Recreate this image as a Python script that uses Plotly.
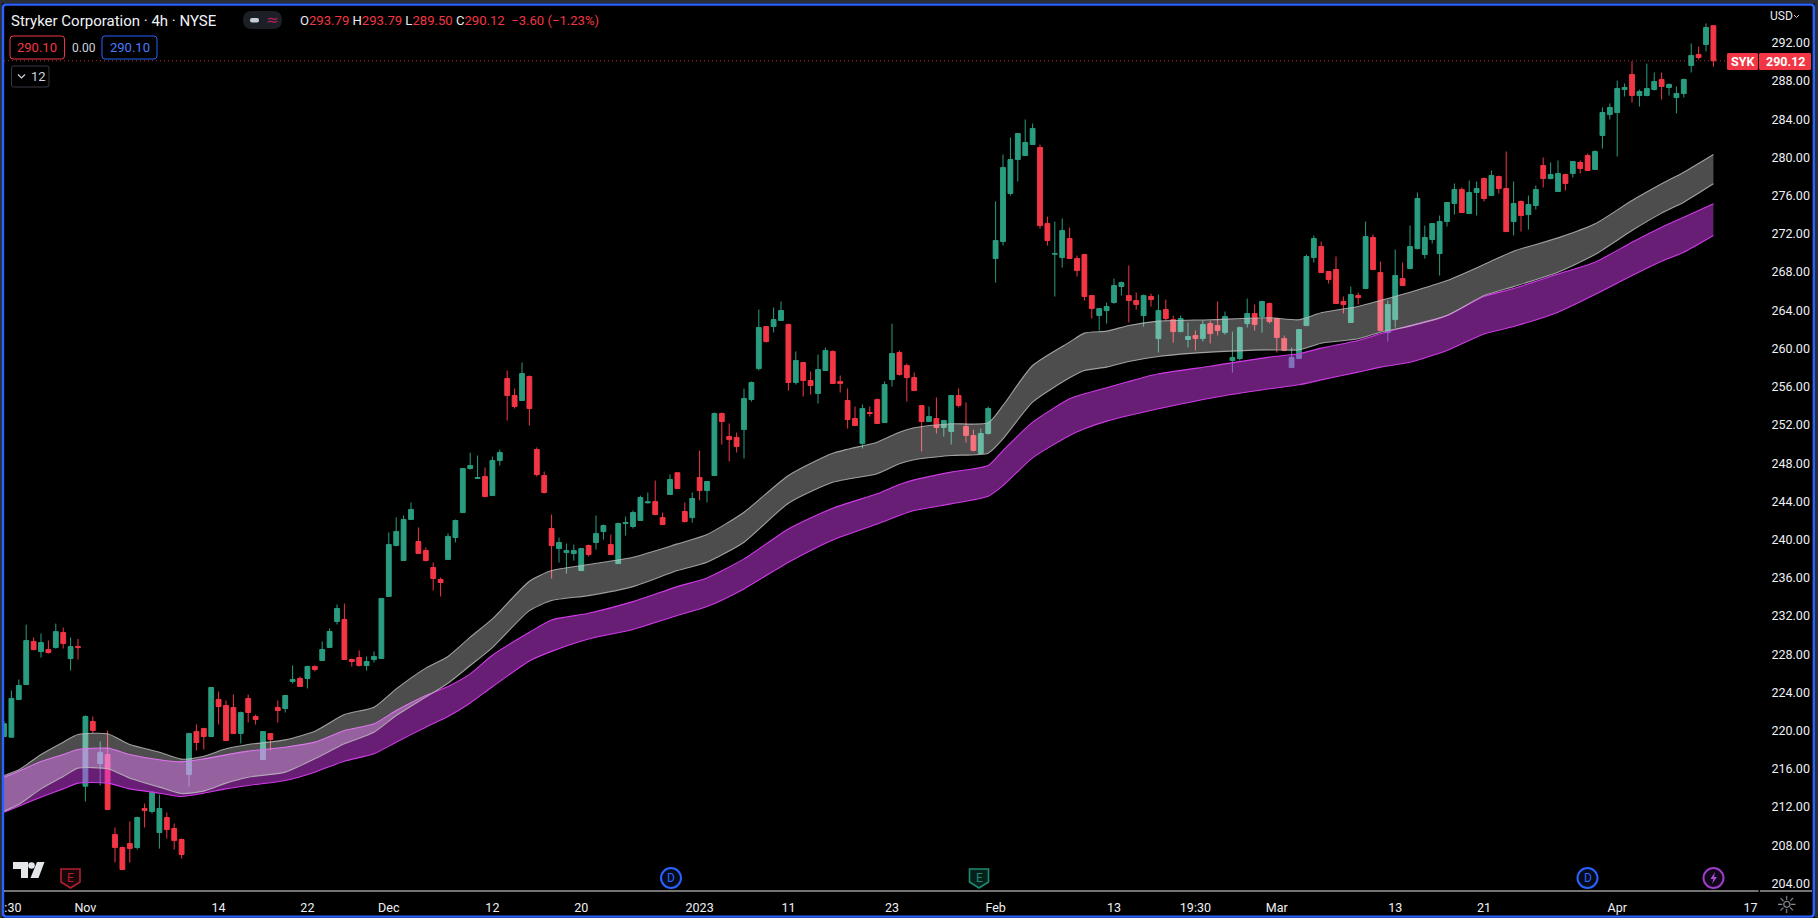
import plotly.graph_objects as go

# ---- candle data (prices) ----
opens = [219.39,219.32,223.27,224.83,229.33,228.28,228.49,228.7,230.27,227.55,
228.8,214.19,220.96,216.56,217.51,209.13,207.77,208.19,207.77,211.85,
211.54,209.34,210.91,209.76,208.61,215.41,219.91,220.23,219.39,223.27,
222.64,222.43,219.71,223.37,221.48,216.98,219.7,222.43,222.32,225.15,
225.46,225.46,226.72,227.35,228.71,231.43,231.64,227.45,227.66,226.82,
227.45,227.55,234.05,239.38,237.81,242.11,239.8,238.86,237.08,235.83,
237.92,240.22,242.83,247.44,246.4,246.6,244.61,248.28,256.86,255.08,
254.56,257.07,249.43,246.7,241.16,239.06,238.64,238.54,236.76,239.38,
239.69,240.84,239.48,237.49,241.68,241.37,242.0,243.85,243.98,242.3,
244.72,247.0,242.94,242.3,246.5,245.14,246.71,253.2,250.79,250.68,
251.52,254.66,257.9,262.3,262.3,262.93,262.51,256.44,258.53,256.65,
255.29,257.7,259.69,256.55,254.56,252.67,250.05,253.3,254.66,252.25,
256.75,259.58,258.22,256.96,254.03,252.36,252.67,251.73,251.31,255.08,
251.84,250.9,249.01,251.1,269.42,271.2,276.22,279.78,280.2,281.35,
281.04,273.08,269.87,269.52,271.51,269.42,269.84,265.54,263.45,263.97,
264.81,266.49,265.54,265.02,263.45,265.44,261.04,264.08,263.03,261.77,
260.94,261.36,261.04,262.61,262.4,261.67,258.74,258.95,262.61,263.66,
263.35,264.71,263.14,261.04,258.01,258.95,262.4,269.52,270.67,268.06,
268.27,264.92,262.72,265.54,266.28,271.62,267.95,261.67,263.03,267.32,
268.37,270.46,269.84,271.41,269.94,273.29,275.18,276.64,274.13,276.33,
277.79,276.01,278.0,276.75,273.29,275.39,274.02,274.97,279.15,277.79,
276.43,278.21,278.32,279.47,280.2,278.74,282.3,284.49,284.7,287.11,
288.68,286.48,286.48,287.11,288.16,287.32,286.27,286.69,289.63,290.78,
291.82,293.79]
highs = [221.0,224.21,225.36,231.1,229.75,230.17,229.43,231.21,230.8,229.75,
229.6,221.6,221.48,218.87,220.02,209.86,207.87,210.49,211.0,212.38,
213.7,213.32,211.43,210.28,208.71,219.75,220.65,220.3,224.55,224.1,
223.16,223.79,222.0,223.79,221.69,219.95,219.75,223.16,223.75,226.83,
225.67,226.8,226.83,229.34,230.7,233.21,233.3,227.55,228.4,227.77,
228.29,233.9,240.75,242.32,242.53,243.89,241.27,239.18,237.6,236.03,
240.64,242.1,247.5,249.11,248.8,247.54,248.69,249.43,257.7,255.81,
258.54,257.18,249.64,247.12,242.62,240.21,239.59,239.48,239.1,239.48,
242.52,241.57,240.53,241.78,242.41,243.04,244.6,244.93,246.18,242.83,
246.81,247.0,243.88,244.93,249.32,246.1,253.3,253.3,252.15,251.2,
255.81,256.55,264.08,262.35,264.29,264.92,262.6,259.69,258.6,257.59,
259.37,260.1,259.8,257.17,255.81,253.93,254.14,253.93,254.77,256.55,
262.6,259.79,258.43,257.49,254.1,253.93,254.87,252.5,255.1,255.82,
254.35,251.52,251.63,253.93,275.4,280.3,282.09,282.55,283.97,283.55,
281.35,273.81,273.29,273.61,272.66,269.73,269.9,265.6,264.25,264.81,
267.32,267.01,268.68,265.86,265.65,265.75,265.65,265.12,263.45,263.45,
262.72,261.88,262.93,262.93,264.92,263.87,261.77,262.3,265.23,264.6,
265.0,264.81,263.2,261.36,260.1,262.0,269.84,271.83,271.2,268.1,
269.63,265.44,266.49,265.86,273.29,271.93,269.1,265.02,270.36,269.0,
272.87,276.33,272.87,273.1,273.92,275.3,277.27,276.85,277.58,277.48,
277.9,278.63,278.1,280.62,277.48,275.5,276.01,277.06,279.99,279.47,
279.68,278.3,279.6,279.68,280.41,280.73,285.23,285.65,288.05,287.74,
290.04,287.11,289.83,288.89,288.89,287.74,287.43,288.26,291.93,291.61,
294.02,293.79]
lows = [219.3,219.3,223.2,224.8,228.4,227.65,228.07,228.6,228.6,226.3,
227.44,212.59,219.7,214.26,211.7,206.2,205.45,206.2,207.56,209.86,
211.33,207.66,208.71,207.56,206.62,214.16,217.93,218.03,219.35,220.65,
218.9,219.65,218.66,220.86,220.65,216.95,217.93,220.86,221.9,224.94,
224.6,224.42,226.2,227.3,228.65,231.12,227.4,226.72,226.72,226.3,
227.14,227.5,234.0,239.3,237.8,242.1,238.5,237.7,234.67,234.05,
237.9,239.7,242.8,247.33,246.4,244.45,244.6,247.75,252.46,253.72,
254.5,251.94,246.6,244.82,235.92,237.6,236.44,237.8,236.7,238.23,
238.96,240.0,238.4,237.45,240.42,241.16,241.95,243.77,242.6,241.55,
244.7,245.3,241.78,241.78,244.1,243.88,246.7,249.95,248.17,249.11,
248.5,254.45,257.7,260.63,261.68,262.9,255.6,256.23,254.97,255.18,
254.24,257.65,256.3,255.39,251.62,251.9,249.53,252.88,252.1,252.2,
256.02,257.17,254.45,255.58,249.22,252.3,251.1,250.79,249.95,253.83,
250.16,249.22,249.0,251.0,266.9,270.78,276.0,277.48,280.15,281.3,
272.56,270.78,265.44,268.47,269.4,267.53,265.02,263.14,261.88,262.61,
264.7,265.54,262.72,264.08,262.3,264.39,259.58,262.9,260.62,261.7,
260.1,259.78,260.73,260.52,261.36,261.46,257.48,258.74,262.19,261.88,
261.67,262.61,259.58,259.75,258.0,258.9,262.35,269.0,267.9,266.8,
264.7,263.66,262.7,264.6,266.2,268.2,261.8,260.73,262.19,266.55,
268.3,270.36,269.42,270.99,267.64,272.77,274.02,274.2,274.1,273.92,
275.39,276.0,276.22,272.2,271.83,272.24,272.45,274.55,276.85,277.7,
276.4,276.54,277.9,278.32,278.6,278.7,280.93,283.97,280.1,286.38,
285.75,285.33,286.4,287.0,286.06,286.48,284.6,286.27,288.89,290.25,
291.09,289.5]
closes = [220.72,223.37,224.73,229.43,228.49,229.22,228.17,230.37,229.12,228.8,
228.7,221.48,220.02,217.72,211.75,207.77,205.47,207.67,210.91,211.64,
213.53,211.85,209.65,208.5,207.04,219.71,218.76,219.39,224.52,222.53,
218.97,219.71,221.9,221.9,221.17,219.91,219.08,222.11,223.68,225.36,
224.63,226.72,226.41,228.5,230.38,232.79,227.45,227.24,226.82,227.24,
227.77,233.84,239.49,240.85,242.11,243.15,238.55,237.81,235.93,235.51,
240.33,242.0,247.44,247.75,246.5,244.5,248.28,249.11,255.08,253.93,
257.38,253.72,246.81,244.93,239.38,239.69,238.85,238.85,239.06,238.44,
240.63,241.47,238.44,241.68,241.78,242.83,244.4,243.95,242.62,241.57,
246.29,245.34,241.89,244.3,245.14,246.08,253.2,252.36,250.47,249.74,
254.77,256.44,262.2,260.73,263.03,263.98,256.44,258.74,256.65,256.13,
257.8,259.79,256.34,256.34,252.57,251.94,253.72,253.2,252.15,256.23,
259.48,257.28,256.96,255.6,252.36,252.88,251.73,252.47,255.08,254.04,
250.9,249.33,251.1,253.72,271.3,278.94,279.78,282.5,281.56,283.03,
272.87,271.3,269.94,272.35,269.42,268.16,265.44,264.18,264.18,264.39,
266.59,266.9,265.02,264.6,265.54,265.12,263.97,263.14,261.77,263.14,
261.25,261.04,262.51,261.56,261.88,263.35,259.05,262.19,263.66,262.51,
264.92,262.82,261.15,259.79,259.05,261.98,269.63,271.51,267.95,267.22,
264.71,264.6,265.65,265.33,271.72,268.27,261.88,264.6,267.64,266.59,
270.67,275.7,271.62,273.08,273.29,275.28,276.64,274.23,276.33,276.75,
275.7,278.1,276.75,272.24,275.18,273.92,275.07,276.64,277.79,278.21,
278.32,277.27,279.57,278.84,278.63,280.62,284.7,285.23,287.22,287.32,
286.48,286.9,287.22,287.95,287.43,287.64,286.69,288.16,290.67,290.46,
293.6,290.12]

# ---- EMA-ribbon edges, read at a set of candle numbers ----
band_idx = [0,2,5,8,10,14,17,21,24,27,30,33,38,42,46,50,53,57,60,
63,66,71,74,79,85,91,95,100,106,112,118,121,
123,128,133,135,139,144,146,149,152,156,163,171,175,178,183,186,
190,195,200,204,210,215,220,224,227,231]
gray_upper = [215.31,215.90,217.51,218.80,219.60,219.67,218.55,217.75,217.02,217.33,218.10,218.55,219.04,219.95,221.69,222.46,224.38,226.55,227.77,
229.79,231.70,235.64,236.76,237.39,238.16,239.55,240.53,242.87,246.71,249.04,250.2,251.24,
251.70,252.12,252.22,254.04,258.22,260.67,261.61,261.82,262.41,262.87,263.01,263.22,263.01,263.74,264.40,265.03,
265.89,267.11,268.79,270.19,271.58,273.05,275.49,277.24,278.46,280.31]
gray_lower = [211.57,212.27,213.91,215.20,216.08,216.01,215.03,214.09,213.42,213.67,214.51,215.13,215.66,217.05,218.62,219.84,221.59,223.51,224.97,
226.82,228.7,232.57,233.62,234.14,235.08,236.76,237.63,239.73,243.81,246.0,246.9,247.93,
248.35,248.80,249.05,250.55,254.39,256.93,257.70,258.05,258.64,259.17,259.62,259.86,259.86,260.56,261.02,261.71,
262.33,263.45,265.54,266.48,267.99,269.84,272.35,274.17,275.32,277.24]
purple_upper = [215.13,215.76,216.77,217.51,218.03,218.17,217.51,216.95,216.74,217.05,217.47,217.86,218.27,218.80,220.02,220.72,222.11,223.68,224.63,
225.95,227.9,230.3,231.59,232.29,233.51,235.08,235.99,237.98,241.12,243.29,244.79,245.76,
246.25,247.06,247.75,249.32,252.29,254.73,255.26,255.89,256.55,257.35,258.15,259.10,259.45,260.04,260.84,261.54,
262.4,263.45,265.44,266.28,267.81,269.03,271.13,272.7,273.75,275.14]
purple_lower = [211.47,212.10,213.04,213.91,214.51,214.51,213.91,213.46,213.11,213.46,213.91,214.26,214.78,215.66,216.81,217.58,218.80,220.37,221.48,
222.9,224.6,227.3,228.3,229.6,230.6,232.05,232.99,234.84,237.63,239.97,241.64,242.52,
243.04,243.74,244.54,245.66,248.56,250.9,251.6,252.4,252.99,253.69,254.8,255.78,256.2,256.72,257.53,258.05,
258.56,259.79,261.53,262.3,263.8,265.65,267.64,269.14,270.08,271.83]

# ---- axis ticks ----
date_pos = [1.2,11,29,41,52,66,78,94,106,120,134,150,161,172,188,200,218,236]
date_lab = [":30","Nov","14","22","Dec","12","20","2023","11","23","Feb","13","19:30","Mar","13","21","Apr","17"]
price_ticks = [204+4*k for k in range(23)]

last_close = closes[-1]

# ---- pane geometry in page pixels ----
W, H = 1818, 918
L, R, T, B = 4, 1759, 6, 891
def px(x): return (x - L) / (R - L)
def py(y): return (B - y) / (B - T)
def P(x, y): return f"{px(x):.5f},{py(y):.5f}"

UP = "#2a9d80"
DOWN = "#f23645"
BLUE = "#2962ff"
FONT = "Roboto, Liberation Sans, sans-serif"

fig = go.Figure()
idx = list(range(len(opens)))
fig.add_trace(go.Candlestick(
    x=idx, open=opens, high=highs, low=lows, close=closes,
    increasing=dict(fillcolor=UP, line=dict(color=UP, width=1)),
    decreasing=dict(fillcolor=DOWN, line=dict(color=DOWN, width=1)),
    whiskerwidth=0, showlegend=False, hoverinfo="skip"))

def band(top, bottom, line, fill):
    fig.add_trace(go.Scatter(x=band_idx, y=top, mode="lines", showlegend=False, hoverinfo="skip",
                             line=dict(color=line, width=1.1, shape="spline", smoothing=0.6)))
    fig.add_trace(go.Scatter(x=band_idx, y=bottom, mode="lines", showlegend=False, hoverinfo="skip",
                             line=dict(color=line, width=1.1, shape="spline", smoothing=0.6),
                             fill="tonexty", fillcolor=fill))

band(purple_upper, purple_lower, "#cf3ae6", "rgba(224,64,251,0.47)")
band(gray_upper, gray_lower, "rgba(190,190,190,0.8)", "rgba(255,255,255,0.30)")

shapes, ann = [], []

def rect(x0, y0, x1, y1, fill=None, line=None, lw=1, r=0):
    if r:
        p = (f"M {P(x0+r,y0)} L {P(x1-r,y0)} Q {P(x1,y0)} {P(x1,y0+r)} L {P(x1,y1-r)} "
             f"Q {P(x1,y1)} {P(x1-r,y1)} L {P(x0+r,y1)} Q {P(x0,y1)} {P(x0,y1-r)} "
             f"L {P(x0,y0+r)} Q {P(x0,y0)} {P(x0+r,y0)} Z")
        shapes.append(dict(type="path", xref="paper", yref="paper", path=p, layer="above",
                           fillcolor=fill or "rgba(0,0,0,0)",
                           line=dict(color=line or "rgba(0,0,0,0)", width=lw if line else 0)))
    else:
        shapes.append(dict(type="rect", xref="paper", yref="paper", x0=px(x0), x1=px(x1), y0=py(y0), y1=py(y1),
                           layer="above", fillcolor=fill or "rgba(0,0,0,0)",
                           line=dict(color=line or "rgba(0,0,0,0)", width=lw if line else 0)))

def poly(points, fill=None, line=None, lw=1, close=True):
    p = "M " + " L ".join(P(a, b) for a, b in points) + (" Z" if close else "")
    shapes.append(dict(type="path", xref="paper", yref="paper", path=p, layer="above",
                       fillcolor=fill or "rgba(0,0,0,0)",
                       line=dict(color=line or "rgba(0,0,0,0)", width=lw if line else 0)))

def circle(cx, cy, r, fill=None, line=None, lw=2):
    shapes.append(dict(type="circle", xref="paper", yref="paper", x0=px(cx-r), x1=px(cx+r), y0=py(cy+r), y1=py(cy-r),
                       layer="above", fillcolor=fill or "rgba(0,0,0,0)",
                       line=dict(color=line or "rgba(0,0,0,0)", width=lw if line else 0)))

def text(x, y, s, color="#d1d4dc", size=13, anchor="left", family=FONT):
    ann.append(dict(xref="paper", yref="paper", x=px(x), y=py(y), text=s, showarrow=False,
                    xanchor=anchor, yanchor="middle", xshift=0, yshift=0,
                    font=dict(family=family, size=size, color=color), borderpad=0))

# outer frame
EDGE = "#2a2e39"
rect(0, 0, W, 3.5, fill=EDGE)
rect(0, 0, 2, H, fill=EDGE)
rect(1815, 0, W, H, fill=EDGE)
rect(3, 4.6, 1813.8, 916.6, line=BLUE, lw=2.4, r=3)

# bottom axis line
rect(4, 890.4, 1758.5, 891.4, fill="#e6e6e6")
rect(1760, 890.4, 1812, 891.4, fill="#e6e6e6")

# last price line
shapes.append(dict(type="line", xref="paper", yref="y", x0=0, x1=px(1727), y0=last_close, y1=last_close,
                   layer="above", line=dict(color="rgba(242,54,69,0.75)", width=1, dash="1px,3px")))
rect(1727, 53, 1758, 70, fill=DOWN, r=1.5)
rect(1759, 53, 1811, 70, fill=DOWN, r=1.5)
text(1742.5, 61.5, "<b>SYK</b>", "#ffffff", 12.5, "center")
text(1785, 61.5, "<b>290.12</b>", "#ffffff", 12.5, "center")

# USD
text(1769, 16, "USD", "#e6e8ee", 12)
poly([(1794, 15), (1796.5, 17.5), (1799, 15)], line="#c8ccd6", lw=1, close=False)

# header
text(10, 21, "Stryker Corporation · 4h · NYSE", "#f0f3fa", 15)
rect(243, 11, 282, 29, fill="#1c2026", r=9)
rect(250, 18, 259, 22.5, fill="#c8ccd4", r=2)
text(272, 20, "≈", "#b0205a", 15, "center", "DejaVu Sans")
r = "#f23645"
w = "#e8eaf0"
ohlc = (f'<span style="color:{w}">O</span><span style="color:{r}">293.79</span> '
        f'<span style="color:{w}">H</span><span style="color:{r}">293.79</span> '
        f'<span style="color:{w}">L</span><span style="color:{r}">289.50</span> '
        f'<span style="color:{w}">C</span><span style="color:{r}">290.12</span> '
        f'<span style="color:{r}"> −3.60 (−1.23%)</span>')
text(299, 21, ohlc, r, 13.1)
rect(10, 36, 64.5, 59, line=DOWN, lw=1, r=3)
text(37.2, 47.5, "290.10", DOWN, 13, "center")
text(84, 47.5, "0.00", "#d1d4dc", 12, "center")
rect(102, 36, 157, 59, line=BLUE, lw=1, r=3)
text(129.5, 47.5, "290.10", "#4a7bff", 13, "center")
rect(11.5, 66, 49, 87, line="#363a45", lw=1, r=2)
poly([(18, 74.5), (21.5, 78), (25, 74.5)], line="#d1d4dc", lw=1.2, close=False)
text(38, 76.5, "12", "#d1d4dc", 13, "center")

# TradingView mark
LOGO = "#e4e6ea"
poly([(13, 862), (28, 862), (28, 878), (21, 878), (21, 869), (13, 869)], fill=LOGO)
circle(31.5, 865.5, 3.3, fill=LOGO, lw=0)
poly([(37, 862), (44.5, 862), (38.5, 878), (30.5, 878)], fill=LOGO)

# event badges
def shield(cx, stroke, fill):
    poly([(cx-9.5, 869), (cx+9.5, 869), (cx+9.5, 882), (cx, 888), (cx-9.5, 882)], fill=fill, line=stroke, lw=1.6)
    text(cx, 878, "E", stroke, 12, "center")
shield(70.5, "#b3202f", "#17070a")
shield(979, "#1f8a72", "#06201b")

for cx in (671, 1587.5):
    circle(cx, 878, 10, fill="#060b1c", line=BLUE, lw=2)
    text(cx, 878, "D", "#2f66ff", 12, "center")
circle(1713.5, 878, 10, fill="#12061a", line="#9c3dc4", lw=2)
poly([(1715, 872), (1710.5, 879), (1713.5, 879), (1712, 884), (1717, 877), (1714, 877)], fill="#b04ed8")

# settings icon
text(1787, 905.5, "☼", "#8a8e99", 24, "center", "DejaVu Sans")

fig.update_layout(
    width=W, height=H, autosize=False,
    margin=dict(l=L, r=W-R, t=T, b=H-B, pad=0),
    paper_bgcolor="#000000", plot_bgcolor="#000000",
    boxgap=0.35, boxgroupgap=0, showlegend=False, dragmode=False,
    font=dict(family=FONT, color="#e6e8ee", size=12.5),
    shapes=shapes, annotations=ann,
    xaxis=dict(range=[0, 237.16], rangeslider=dict(visible=False), showgrid=False, zeroline=False,
               tickmode="array", tickvals=date_pos, ticktext=date_lab,
               ticks="outside", ticklen=5, tickcolor="rgba(0,0,0,0)", showline=False,
               tickfont=dict(family=FONT, size=12.5, color="#eef0f4")),
    yaxis=dict(side="right", range=[203.22, 295.85], showgrid=False, zeroline=False, showline=False,
               tickmode="array", tickvals=price_ticks, ticktext=[f"{v:.2f}" for v in price_ticks],
               ticks="outside", ticklen=9, tickcolor="rgba(0,0,0,0)",
               tickfont=dict(family=FONT, size=12.5, color="#eef0f4")),
)

fig.write_html("out.html", config=dict(displayModeBar=False),
               post_script="document.body.style.margin='0';document.body.style.overflow='hidden';")
